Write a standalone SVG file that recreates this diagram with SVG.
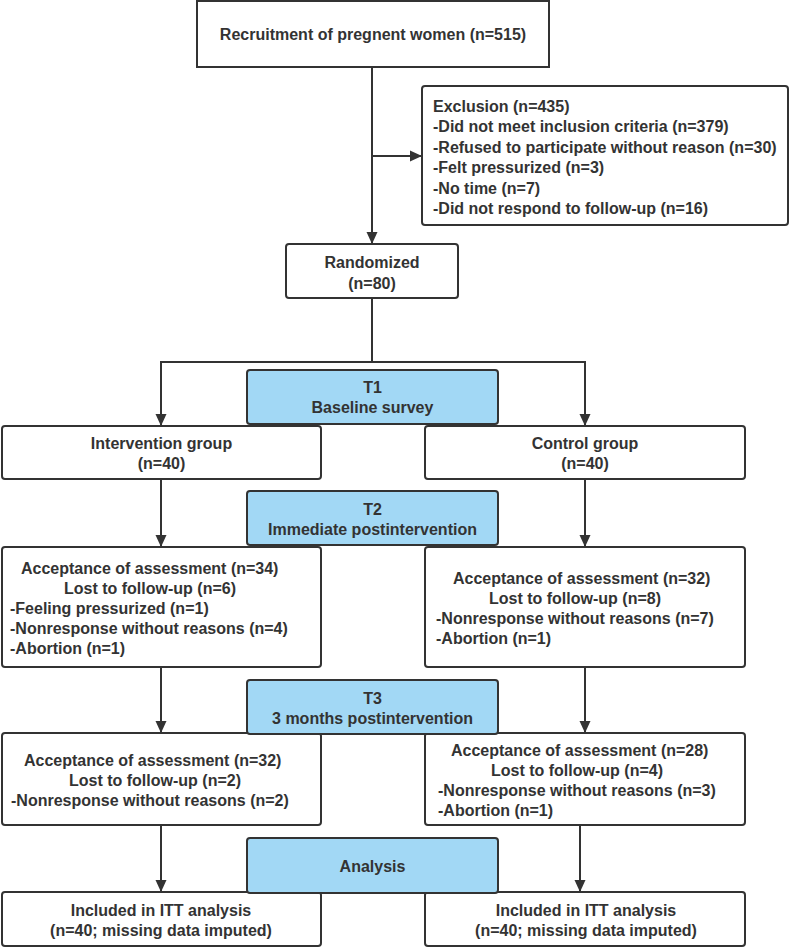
<svg xmlns="http://www.w3.org/2000/svg" width="790" height="947" viewBox="0 0 790 947">
<defs>
<marker id="arr" markerUnits="userSpaceOnUse" markerWidth="12" markerHeight="12" viewBox="0 0 12 12" refX="12" refY="6" orient="auto">
<path d="M0,0.5 L12,6 L0,11.5 z" fill="#333"/>
</marker>
<style>
.box{fill:#fff;stroke:#333;stroke-width:2}
.blue{fill:#a2d8f5;stroke:#333;stroke-width:2}
.ln{fill:none;stroke:#333;stroke-width:2}
text{font-family:"Liberation Sans",Arial,sans-serif;font-size:16px;font-weight:bold;fill:#333}
.c{text-anchor:middle}
</style>
</defs>
<g id="connectors">
<line class="ln" x1="372" y1="67" x2="372" y2="244" marker-end="url(#arr)"/>
<line class="ln" x1="372" y1="156" x2="422" y2="156" marker-end="url(#arr)"/>
<polyline class="ln" points="372,298 372,362"/>
<polyline class="ln" points="161,426 161,362 585,362 585,426"/>
<line class="ln" x1="161" y1="362" x2="161" y2="426" marker-end="url(#arr)"/>
<line class="ln" x1="585" y1="362" x2="585" y2="426" marker-end="url(#arr)"/>
<line class="ln" x1="161" y1="479" x2="161" y2="547" marker-end="url(#arr)"/>
<line class="ln" x1="585" y1="479" x2="585" y2="547" marker-end="url(#arr)"/>
<line class="ln" x1="161" y1="667" x2="161" y2="733" marker-end="url(#arr)"/>
<line class="ln" x1="585" y1="667" x2="585" y2="733" marker-end="url(#arr)"/>
<line class="ln" x1="161" y1="825" x2="161" y2="892" marker-end="url(#arr)"/>
<line class="ln" x1="580" y1="825" x2="580" y2="892" marker-end="url(#arr)"/>
</g>
<g id="recruitment">
<rect class="box" x="197" y="1" width="352" height="66"/>
<text class="c" x="373" y="40">Recruitment of pregnent women (n=515)</text>
</g>
<g id="exclusion">
<rect class="box" x="422" y="86" width="366" height="139" rx="3"/>
<text x="433" y="112">Exclusion (n=435)</text>
<text x="433" y="132">-Did not meet inclusion criteria (n=379)</text>
<text x="433" y="153">-Refused to participate without reason (n=30)</text>
<text x="433" y="173">-Felt pressurized (n=3)</text>
<text x="433" y="194">-No time (n=7)</text>
<text x="433" y="214">-Did not respond to follow-up (n=16)</text>
</g>
<g id="randomized">
<rect class="box" x="286" y="244" width="172" height="54" rx="3"/>
<text class="c" x="372" y="268">Randomized</text>
<text class="c" x="372" y="289">(n=80)</text>
</g>
<g id="intervention">
<rect class="box" x="2" y="426" width="319" height="53" rx="3"/>
<text class="c" x="161.5" y="449">Intervention group</text>
<text class="c" x="161.5" y="469">(n=40)</text>
</g>
<g id="control">
<rect class="box" x="425" y="426" width="320" height="53" rx="3"/>
<text class="c" x="585" y="449">Control group</text>
<text class="c" x="585" y="469">(n=40)</text>
</g>
<g id="int-t2">
<rect class="box" x="2" y="547" width="319" height="120" rx="3"/>
<text x="21" y="574">Acceptance of assessment (n=34)</text>
<text x="64" y="594">Lost to follow-up (n=6)</text>
<text x="10" y="614">-Feeling pressurized (n=1)</text>
<text x="10" y="634">-Nonresponse without reasons (n=4)</text>
<text x="10" y="654">-Abortion (n=1)</text>
</g>
<g id="ctl-t2">
<rect class="box" x="425" y="547" width="320" height="120" rx="3"/>
<text x="453" y="584">Acceptance of assessment (n=32)</text>
<text x="489" y="604">Lost to follow-up (n=8)</text>
<text x="436" y="624">-Nonresponse without reasons (n=7)</text>
<text x="436" y="644">-Abortion (n=1)</text>
</g>
<g id="int-t3">
<rect class="box" x="2" y="733" width="319" height="92" rx="3"/>
<text x="24" y="766">Acceptance of assessment (n=32)</text>
<text x="69" y="786">Lost to follow-up (n=2)</text>
<text x="11" y="806">-Nonresponse without reasons (n=2)</text>
</g>
<g id="ctl-t3">
<rect class="box" x="425" y="733" width="320" height="92" rx="3"/>
<text x="451" y="756">Acceptance of assessment (n=28)</text>
<text x="491" y="776">Lost to follow-up (n=4)</text>
<text x="438" y="796">-Nonresponse without reasons (n=3)</text>
<text x="438" y="816">-Abortion (n=1)</text>
</g>
<g id="int-itt">
<rect class="box" x="2" y="892" width="319" height="54" rx="3"/>
<text class="c" x="161" y="916">Included in ITT analysis</text>
<text class="c" x="161" y="936">(n=40; missing data imputed)</text>
</g>
<g id="ctl-itt">
<rect class="box" x="425" y="892" width="320" height="54" rx="3"/>
<text class="c" x="586" y="916">Included in ITT analysis</text>
<text class="c" x="586" y="936">(n=40; missing data imputed)</text>
</g>
<g id="t1">
<rect class="blue" x="247" y="370" width="251" height="54" rx="3"/>
<text class="c" x="372.5" y="393">T1</text>
<text class="c" x="372.5" y="413">Baseline survey</text>
</g>
<g id="t2">
<rect class="blue" x="247" y="491" width="251" height="54" rx="3"/>
<text class="c" x="372.5" y="515">T2</text>
<text class="c" x="372.5" y="535">Immediate postintervention</text>
</g>
<g id="t3">
<rect class="blue" x="247" y="680" width="251" height="54" rx="3"/>
<text class="c" x="372.5" y="704">T3</text>
<text class="c" x="372.5" y="724">3 months postintervention</text>
</g>
<g id="analysis">
<rect class="blue" x="247" y="838" width="251" height="55" rx="3"/>
<text class="c" x="372.5" y="872">Analysis</text>
</g>
</svg>
